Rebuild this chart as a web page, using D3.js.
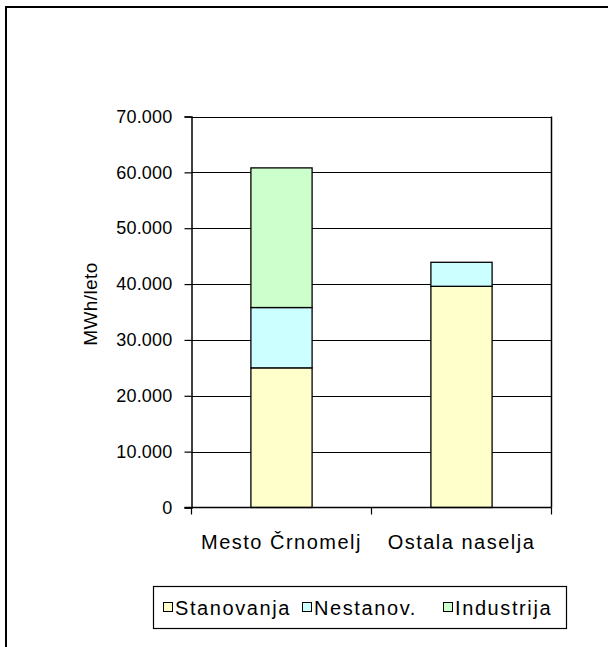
<!DOCTYPE html>
<html>
<head>
<meta charset="utf-8">
<script src="https://cdn.jsdelivr.net/npm/d3@7"></script>
<style>
  html, body { margin: 0; padding: 0; background: #fff; }
  svg { display: block; font-family: "Liberation Sans", Arial, sans-serif; }
</style>
</head>
<body>
<svg id="chart" width="608" height="647"></svg>
<script>
// Annual electricity use by settlement and consumer group
const categories = ["Mesto Črnomelj", "Ostala naselja"];
const seriesNames = ["Stanovanja", "Nestanov.", "Industrija"];
const stanovanja = [25000, 39600];
const nestanov = [10800, 4300];
const industrija = [25000, 0];
const seriesColors = ["#FFFFCC", "#CCFFFF", "#CCFFCC"];
const yTicks = [0, 10000, 20000, 30000, 40000, 50000, 60000, 70000];
const yTitle = "MWh/leto";

const svg = d3.select("#chart");
const W = 608, H = 647;

// outer chart frame (right and bottom edges run off the page)
svg.append("rect")
  .attr("x", 6).attr("y", 7).attr("width", W + 10).attr("height", H + 10)
  .attr("fill", "#fff").attr("stroke", "#000").attr("stroke-width", 2);

const plot = { left: 191.5, right: 551.5, top: 116.5, bottom: 507.5 };

const x = d3.scaleBand().domain(categories)
  .range([plot.left, plot.right]).paddingInner(0.66).paddingOuter(0.33);
const y = d3.scaleLinear().domain([0, 70000]).range([plot.bottom, plot.top]);

const fmt = v => d3.format(",")(v).replace(/,/g, ".");

// gridlines
svg.append("g").selectAll("line").data(yTicks.filter(t => t > 0)).join("line")
  .attr("x1", plot.left).attr("x2", plot.right)
  .attr("y1", d => Math.round(y(d)) + 0.5).attr("y2", d => Math.round(y(d)) + 0.5)
  .attr("stroke", "#000").attr("stroke-width", 1);

// right border of the plot area
svg.append("line")
  .attr("x1", plot.right).attr("x2", plot.right)
  .attr("y1", plot.top).attr("y2", plot.bottom)
  .attr("stroke", "#000").attr("stroke-width", 1.5);

// stacked bars
const rows = categories.map((c, i) => ({
  cat: c, "Stanovanja": stanovanja[i], "Nestanov.": nestanov[i], "Industrija": industrija[i]
}));
const stack = d3.stack().keys(seriesNames)(rows);
svg.append("g").selectAll("g").data(stack).join("g")
  .attr("fill", (d, i) => seriesColors[i])
  .selectAll("rect").data(d => d.filter(s => s[1] - s[0] > 0)).join("rect")
  .attr("x", d => x(d.data.cat))
  .attr("width", x.bandwidth())
  .attr("y", d => y(d[1]))
  .attr("height", d => y(d[0]) - y(d[1]))
  .attr("stroke", "#000").attr("stroke-width", 1.3);

// y axis
const yAxis = svg.append("g").attr("transform", `translate(${plot.left},0)`)
  .call(d3.axisLeft(y).tickValues(yTicks).tickFormat(fmt).tickSize(7).tickPadding(12));
yAxis.select(".domain").attr("stroke-width", 1.5);
yAxis.selectAll(".tick line").attr("stroke-width", 1.2);
yAxis.selectAll("text").attr("font-size", 18).attr("fill", "#000")
  .attr("font-family", "Liberation Sans, Arial, sans-serif")
  .style("letter-spacing", "0.2px");

// x axis with ticks between categories
const xAxisG = svg.append("g").attr("transform", `translate(0,${plot.bottom})`);
xAxisG.append("line").attr("x1", plot.left - 7).attr("x2", plot.right)
  .attr("stroke", "#000").attr("stroke-width", 1.5);
const bounds = [plot.left, (plot.left + plot.right) / 2, plot.right];
xAxisG.selectAll("line.tk").data(bounds).join("line").attr("class", "tk")
  .attr("x1", d => d).attr("x2", d => d).attr("y1", 0).attr("y2", 7)
  .attr("stroke", "#000").attr("stroke-width", 1.2);
xAxisG.selectAll("text").data(categories).join("text")
  .attr("x", d => x(d) + x.bandwidth() / 2).attr("y", 41)
  .attr("text-anchor", "middle").attr("font-size", 20)
  .style("letter-spacing", "1.5px").text(d => d);

// y axis title
svg.append("text")
  .attr("transform", `translate(97,304) rotate(-90)`)
  .attr("text-anchor", "middle").attr("font-size", 19)
  .style("letter-spacing", "0.4px").text(yTitle);

// legend
const legend = svg.append("g");
legend.append("rect").attr("x", 153.5).attr("y", 586.5).attr("width", 413).attr("height", 42)
  .attr("fill", "#fff").attr("stroke", "#000").attr("stroke-width", 1.2);
const itemX = [163, 302, 443];
const items = legend.selectAll("g.item").data(seriesNames).join("g").attr("class", "item")
  .attr("transform", (d, i) => `translate(${itemX[i]},602)`);
items.append("rect").attr("x", 0.5).attr("y", 0.5).attr("width", 9).attr("height", 9)
  .attr("fill", (d, i) => seriesColors[i]).attr("stroke", "#000").attr("stroke-width", 1);
items.append("text").attr("x", 12).attr("y", 12.5).attr("font-size", 20)
  .style("letter-spacing", "1.6px").text(d => d);
</script>
</body>
</html>
